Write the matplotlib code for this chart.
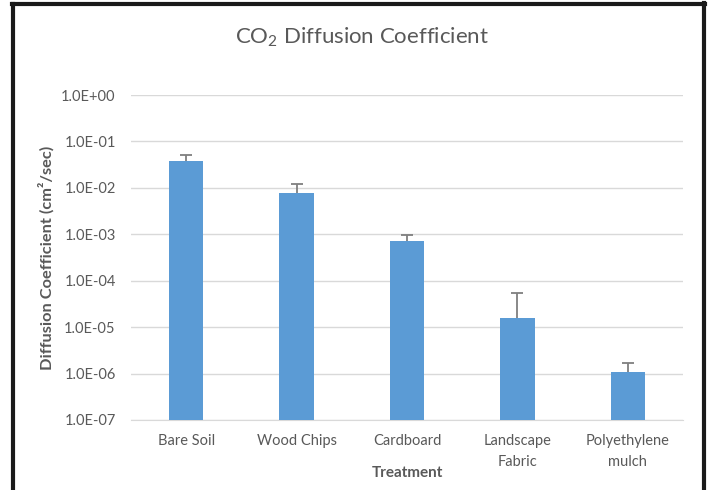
import matplotlib.pyplot as plt
from matplotlib.lines import Line2D
from matplotlib.ticker import FixedLocator, NullLocator

# CO2 diffusion coefficient per treatment (cm2/sec)
treatments = ['Bare Soil', 'Wood Chips', 'Cardboard', 'Landscape\nFabric', 'Polyethylene\nmulch']
coef = [3.8e-2, 7.6e-3, 7.3e-4, 1.55e-5, 9.6e-7]
err_up = [1.2e-2, 4.4e-3, 2.5e-4, 3.9e-5, 7.0e-7]
ytick_vals = [1e-7, 1e-6, 1e-5, 1e-4, 1e-3, 1e-2, 1e-1, 1e0]
ytick_labels = ['1.0E-07', '1.0E-06', '1.0E-05', '1.0E-04', '1.0E-03', '1.0E-02', '1.0E-01', '1.0E+00']

plt.rcParams['font.family'] = ['Lato', 'DejaVu Sans']
plt.rcParams['mathtext.fontset'] = 'custom'
plt.rcParams['mathtext.rm'] = 'Lato'
plt.rcParams['mathtext.it'] = 'Lato:italic'
plt.rcParams['mathtext.bf'] = 'Lato:bold'

grey = '#595959'
fig = plt.figure(figsize=(7.09, 4.90), dpi=100)
ax = fig.add_axes([0.1848, 0.1429, 0.7785, 0.6632])

x = range(len(treatments))
ax.bar(x, coef, width=0.31, color='#5B9BD5', zorder=3, bottom=1e-7)
# only the upper whisker is shown
eb = ax.errorbar(x, coef, yerr=[[0] * len(coef), err_up], fmt='none', ecolor='#7f7f7f',
                 elinewidth=1.3, capsize=4, capthick=1.3, zorder=2)
eb[1][0].set_visible(False)

ax.set_yscale('log')
ax.set_ylim(1e-7, 1e0)
ax.set_xlim(-0.5, len(treatments) - 0.5)
ax.yaxis.set_major_locator(FixedLocator(ytick_vals))
ax.yaxis.set_minor_locator(NullLocator())
ax.set_yticks(ytick_vals)
ax.set_yticklabels(ytick_labels)
ax.set_xticks(list(x))
ax.set_xticklabels(treatments, linespacing=1.65)
ax.tick_params(axis='both', length=0, labelsize=10.5, labelcolor=grey)
ax.tick_params(axis='y', pad=11)
ax.tick_params(axis='x', pad=10)
ax.grid(axis='y', color='#d9d9d9', linewidth=1.0, zorder=0)
for s in ['top', 'right', 'left']:
    ax.spines[s].set_visible(False)
ax.spines['bottom'].set_color('#d9d9d9')

ax.set_xlabel('Treatment', fontsize=11, fontweight='bold', color=grey, labelpad=-2)
ax.set_ylabel('Diffusion Coefficient (cm²/sec)', fontsize=11.8, fontweight='bold',
              color=grey, labelpad=5)
fig.text(0.511, 0.924, 'CO$_2$ Diffusion Coefficient', ha='center', va='center',
         fontsize=16, color=grey)

# dark frame of the screenshot
fig.add_artist(Line2D([0.019, 0.019], [0, 0.992], color='#1a1a1a', lw=3, transform=fig.transFigure))
fig.add_artist(Line2D([0.017, 0.995], [0.992, 0.992], color='#1a1a1a', lw=3, transform=fig.transFigure))
fig.add_artist(Line2D([0.993, 0.993], [0, 0.994], color='#1a1a1a', lw=3, transform=fig.transFigure))

fig.savefig('out.png', dpi=100)
